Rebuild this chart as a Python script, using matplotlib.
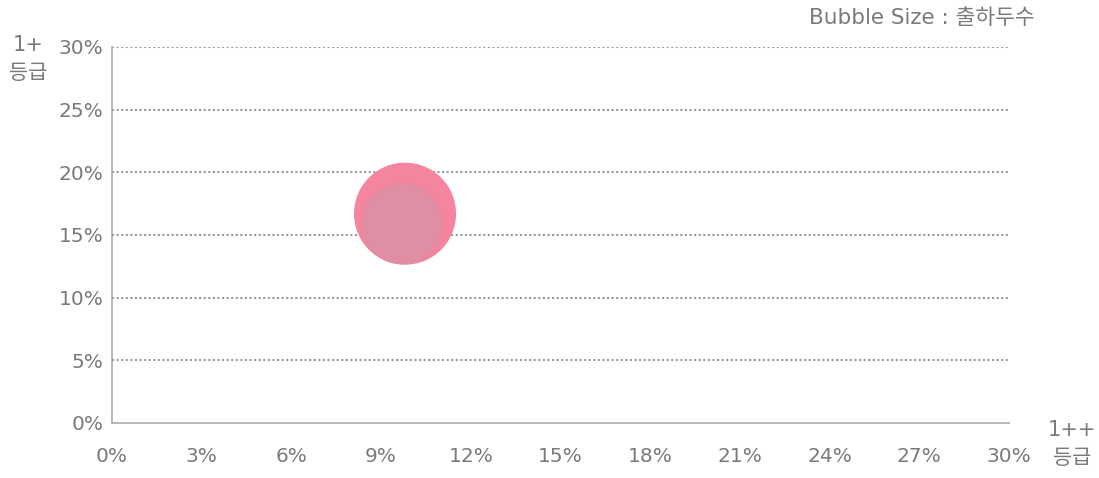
import numpy as np
import matplotlib
matplotlib.use('Agg')
import matplotlib.pyplot as plt

plt.rcParams['font.family'] = ['DejaVu Sans', 'Noto Sans CJK KR']

# bubble data: x = 1++ grade share (%), y = 1+ grade share (%), size = shipments
grade_1pp = [9.8, 9.7]
grade_1p = [16.7, 15.9]
heads = [5400, 3400]
colors = ['#F5849F', '#DF8EA3']

ticks = [0, 3, 6, 9, 12, 15, 18, 21, 24, 27, 30]
yticks = [0, 5, 10, 15, 20, 25, 30]

txt = '#7a7a7a'

fig = plt.figure(figsize=(10.99, 4.78), dpi=100)
ax = fig.add_axes([112/1099, 55/478, 897/1099, 376/478])

ax.scatter(grade_1pp, grade_1p, s=heads, c=colors, edgecolors='none', zorder=3)

ax.set_xlim(0, 30)
ax.set_ylim(0, 30)
ax.set_xticks(ticks)
ax.set_xticklabels(['%d%%' % t for t in ticks])
ax.set_yticks(yticks)
ax.set_yticklabels(['%d%%' % t for t in yticks])

for y in yticks[1:]:
    ax.axhline(y, color='#999999', lw=1.5, ls=(0, (1, 1.2)), zorder=1)

for s in ['top', 'right']:
    ax.spines[s].set_visible(False)
for s in ['left', 'bottom']:
    ax.spines[s].set_color('#aaaaaa')
    ax.spines[s].set_linewidth(1.2)

ax.tick_params(axis='both', length=0, labelsize=14.5, colors=txt)
ax.tick_params(axis='x', pad=17)
ax.tick_params(axis='y', pad=6)

fig.text(28/1099, 1 - 59/478, '1+\n등급', ha='center', va='center',
         fontsize=15, color=txt, linespacing=1.45)
fig.text(1072/1099, 1 - 444/478, '1++\n등급', ha='center', va='center',
         fontsize=15, color=txt, linespacing=1.45)
fig.text(1035/1099, 1 - 18/478, 'Bubble Size : 출하두수', ha='right', va='center',
         fontsize=15.5, color=txt)

fig.savefig('out.png', dpi=100)
